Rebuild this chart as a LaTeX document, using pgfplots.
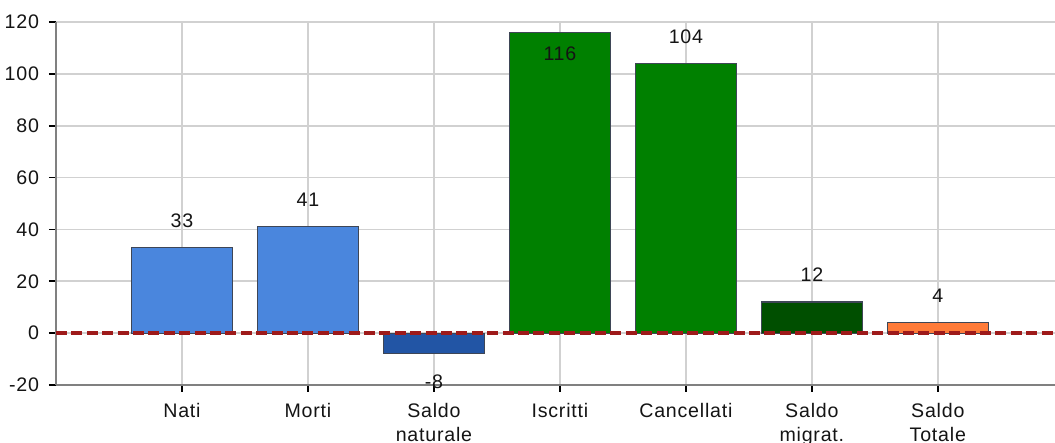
\documentclass[border=0pt]{standalone}
\usepackage{fontspec}
\setmainfont{Liberation Sans}[LetterSpace=4]
\usepackage{pgfplots}
\pgfplotsset{compat=1.18}
\definecolor{cblue}{HTML}{4A86DD}
\definecolor{cdblue}{HTML}{2255A5}
\definecolor{cgreen}{HTML}{008000}
\definecolor{cdgreen}{HTML}{004F00}
\definecolor{corange}{HTML}{FF7B39}
\definecolor{cedge}{HTML}{3E4656}
\definecolor{cred}{HTML}{9E1A1A}
\begin{document}
\begin{tikzpicture}
\begin{axis}[
  scale only axis,
  width=499.5pt, height=181.5pt,
  xmin=-1, xmax=6.93, ymin=-20, ymax=120,
  ytick={-20,0,...,120},
  xtick={0,...,6},
  xticklabels={Nati,Morti,{Saldo\\naturale},Iscritti,Cancellati,{Saldo\\migrat.},{Saldo\\Totale}},
  xticklabel style={align=center, yshift=-2pt},
  yticklabel style={xshift=-1.5pt},
  axis x line=bottom, axis y line=left,
  axis line style={-, draw=black!50, line width=1pt},
  tick align=outside, major tick length=3.5pt,
  tick style={black, line width=0.8pt},
  grid=major, major grid style={black!18, line width=0.8pt},
  font=\fontsize{9.8}{12}\selectfont,
  ticklabel style={text=black!92},
  /pgf/number format/assume math mode=true,
  every axis plot/.append style={ybar, bar width=0.8, bar shift=0pt, draw=cedge, line width=0.6pt},
  nodes near coords style={text=black!92, font=\fontsize{9.8}{12}\selectfont},
]
% Nati, Morti
\addplot[fill=cblue, nodes near coords, nodes near coords style={anchor=south, yshift=6.5pt}]
  coordinates {(0,33) (1,41)};
% Saldo naturale
\addplot[fill=cdblue, nodes near coords, nodes near coords style={anchor=north, yshift=-7pt}]
  coordinates {(2,-8)};
% Iscritti (label inside)
\addplot[fill=cgreen, nodes near coords, nodes near coords style={anchor=north, yshift=-3.5pt}]
  coordinates {(3,116)};
% Cancellati
\addplot[fill=cgreen, nodes near coords, nodes near coords style={anchor=south, yshift=6.5pt}]
  coordinates {(4,104)};
% Saldo migrat.
\addplot[fill=cdgreen, nodes near coords, nodes near coords style={anchor=south, yshift=6.5pt}]
  coordinates {(5,12)};
% Saldo Totale
\addplot[fill=corange, nodes near coords, nodes near coords style={anchor=south, yshift=6.5pt}]
  coordinates {(6,4)};
% zero line
\addplot[sharp plot, draw=cred, line width=1.9pt, dash pattern=on 5.5pt off 2.2pt]
  coordinates {(-1,0) (6.93,0)};
\end{axis}
\pgfresetboundingbox
\path[use as bounding box] ([shift={(-28pt,-29pt)}]current axis.south west) rectangle ([shift={(0pt,11pt)}]current axis.north east);
\end{tikzpicture}
\end{document}
